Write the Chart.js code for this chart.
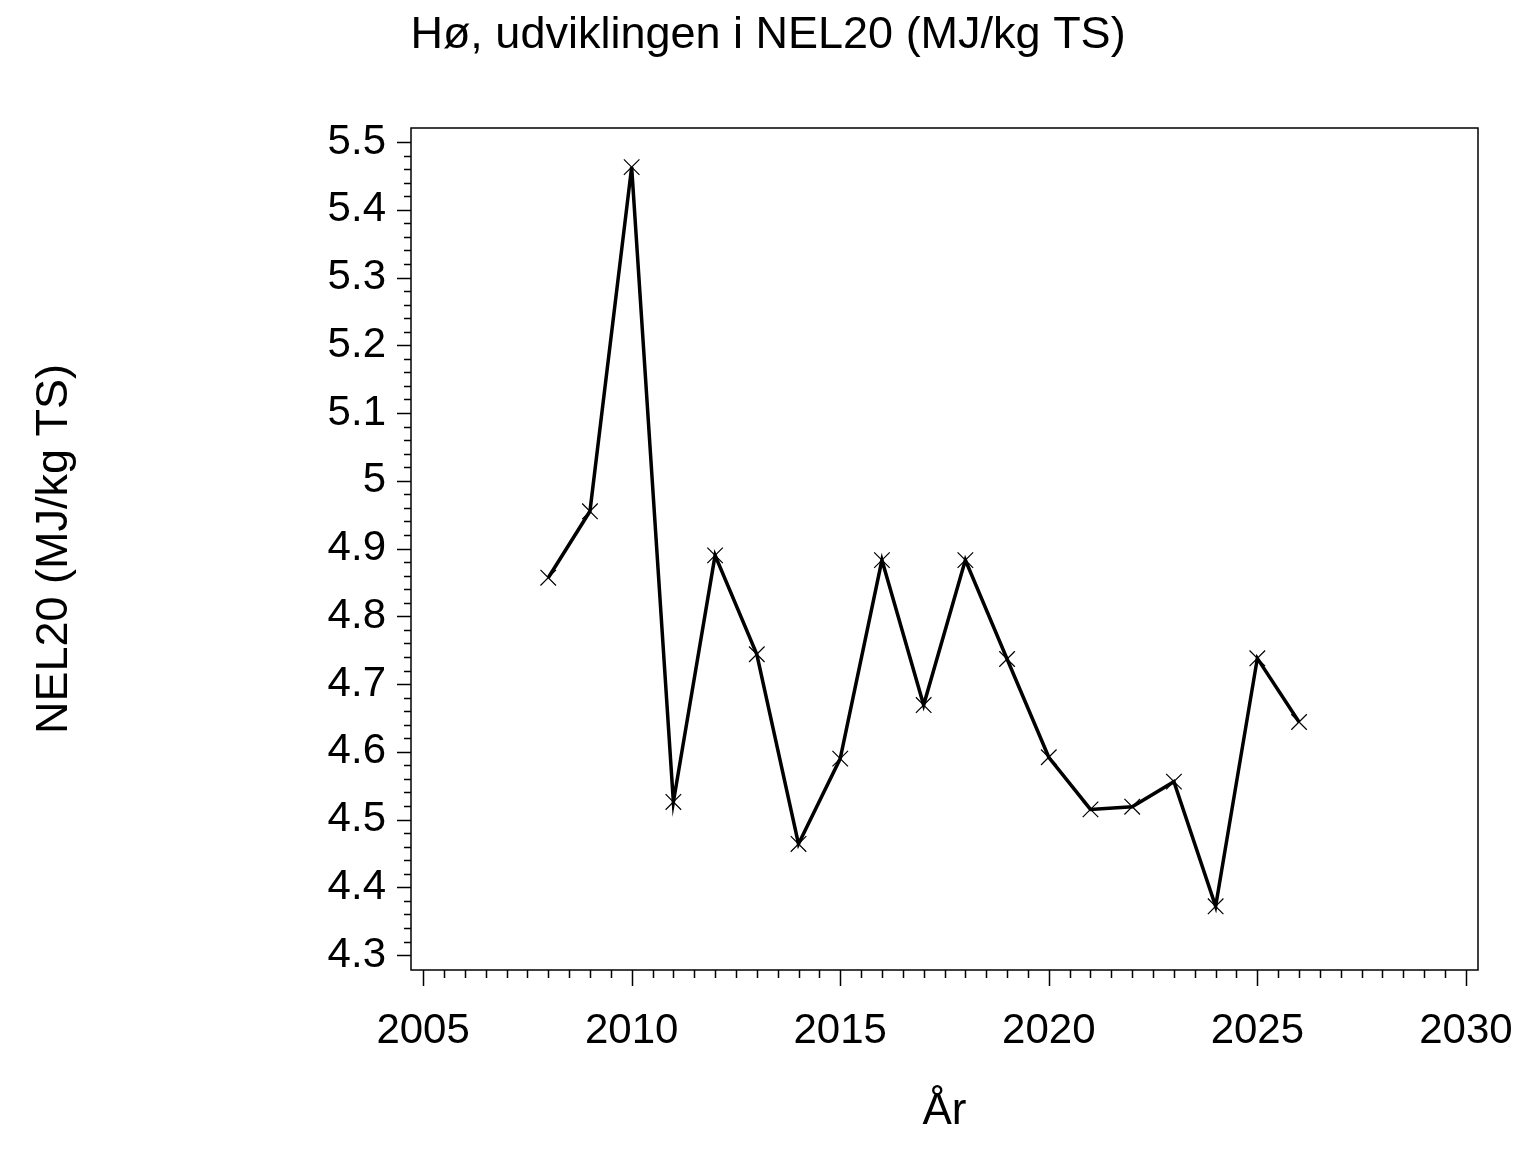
<!DOCTYPE html>
<html>
<head>
<meta charset="utf-8">
<script src="https://cdn.jsdelivr.net/npm/chart.js@4/dist/chart.umd.min.js"></script>
<style>
  html, body { margin: 0; padding: 0; background: #fff; }
  canvas { display: block; }
</style>
</head>
<body>
<canvas id="nelChart" width="1536" height="1152" style="width:1536px;height:1152px"></canvas>
<script>
// values
const years = [2008, 2009, 2010, 2011, 2012, 2013, 2014, 2015, 2016, 2017,
               2018, 2019, 2020, 2021, 2022, 2023, 2024, 2025, 2026];
const nel20 = [4.857, 4.955, 5.463, 4.526, 4.890, 4.744, 4.464, 4.590, 4.883, 4.669,
               4.883, 4.737, 4.592, 4.515, 4.519, 4.556, 4.372, 4.738, 4.644];
const xTickLabels = [2005, 2010, 2015, 2020, 2025, 2030];
const yTickLabels = [4.3, 4.4, 4.5, 4.6, 4.7, 4.8, 4.9, 5.0, 5.1, 5.2, 5.3, 5.4, 5.5];

const FONT = "'Liberation Sans', Arial, Helvetica, sans-serif";

// minor tick lists between the labelled ticks
function minorTicks(labels, perStep) {
  const out = [];
  for (let i = 0; i < labels.length - 1; i++) {
    const a = labels[i], b = labels[i + 1];
    for (let k = 0; k < perStep; k++) out.push({ value: +(a + (b - a) * k / perStep).toFixed(4), major: k === 0 });
  }
  out.push({ value: labels[labels.length - 1], major: true });
  return out;
}

const tickMarks = {
  id: 'tickMarks',
  afterDraw(chart) {
    const { ctx, chartArea, scales } = chart;
    ctx.save();
    ctx.strokeStyle = '#000';
    ctx.lineWidth = 1.5;
    ctx.strokeRect(chartArea.left, chartArea.top, chartArea.right - chartArea.left, chartArea.bottom - chartArea.top);
    ctx.beginPath();
    scales.x.ticks.forEach(t => {
      const px = Math.round(scales.x.getPixelForValue(t.value)) + 0.5;
      ctx.moveTo(px, chartArea.bottom);
      ctx.lineTo(px, chartArea.bottom + (t.major ? 16 : 8));
    });
    scales.y.ticks.forEach(t => {
      const py = Math.round(scales.y.getPixelForValue(t.value)) + 0.5;
      ctx.moveTo(chartArea.left, py);
      ctx.lineTo(chartArea.left - (t.major ? 14 : 7), py);
    });
    ctx.stroke();
    ctx.restore();
  }
};

new Chart(document.getElementById('nelChart').getContext('2d'), {
  type: 'line',
  data: {
    datasets: [{
      label: 'NEL20',
      data: years.map((y, i) => ({ x: y, y: nel20[i] })),
      borderColor: '#000',
      borderWidth: 3.5,
      tension: 0,
      pointStyle: 'crossRot',
      pointRadius: 11,
      pointBorderWidth: 1.2,
      pointBorderColor: '#000',
      pointBackgroundColor: '#000'
    }]
  },
  options: {
    responsive: false,
    animation: false,
    devicePixelRatio: 1,
    layout: { padding: 0 },
    plugins: {
      legend: { display: false },
      tooltip: { enabled: false },
      title: {
        display: true,
        text: 'Hø, udviklingen i NEL20 (MJ/kg TS)',
        color: '#000',
        font: { family: FONT, size: 45, weight: 'normal' },
        padding: { top: 9, bottom: 65 }
      }
    },
    scales: {
      x: {
        type: 'linear',
        min: 2004.71,
        max: 2030.29,
        afterBuildTicks: s => { s.ticks = minorTicks(xTickLabels, 10); },
        afterFit: s => { s.height = 182; s.paddingLeft = 0; s.paddingRight = 0; },
        grid: { display: false, drawTicks: false },
        border: { display: false },
        ticks: {
          autoSkip: false,
          maxRotation: 0,
          padding: 36,
          color: '#000',
          font: { family: FONT, size: 42 },
          callback: v => (xTickLabels.includes(v) ? String(v) : '')
        },
        title: {
          display: true,
          text: 'År',
          color: '#000',
          font: { family: FONT, size: 44 },
          padding: { top: 0, bottom: 14 }
        }
      },
      y: {
        min: 4.278,
        max: 5.5207,
        afterBuildTicks: s => { s.ticks = minorTicks(yTickLabels, 5); },
        afterFit: s => { s.width = 411; s.paddingTop = 0; s.paddingBottom = 0; },
        grid: { display: false, drawTicks: false },
        border: { display: false },
        ticks: {
          autoSkip: false,
          padding: 25,
          color: '#000',
          font: { family: FONT, size: 42 },
          callback: v => (yTickLabels.some(t => Math.abs(t - v) < 1e-6) ? String(+v.toFixed(1)) : '')
        },
        title: {
          display: true,
          text: 'NEL20 (MJ/kg TS)',
          color: '#000',
          font: { family: FONT, size: 45 },
          padding: { top: 28, bottom: 0 }
        }
      },
      // empty right-hand margin so the title centres on the whole page
      margin: {
        type: 'linear',
        position: 'right',
        display: true,
        afterFit: s => { s.width = 58; },
        grid: { display: false, drawTicks: false },
        border: { display: false },
        ticks: { display: false }
      }
    }
  },
  plugins: [tickMarks]
});
</script>
</body>
</html>
